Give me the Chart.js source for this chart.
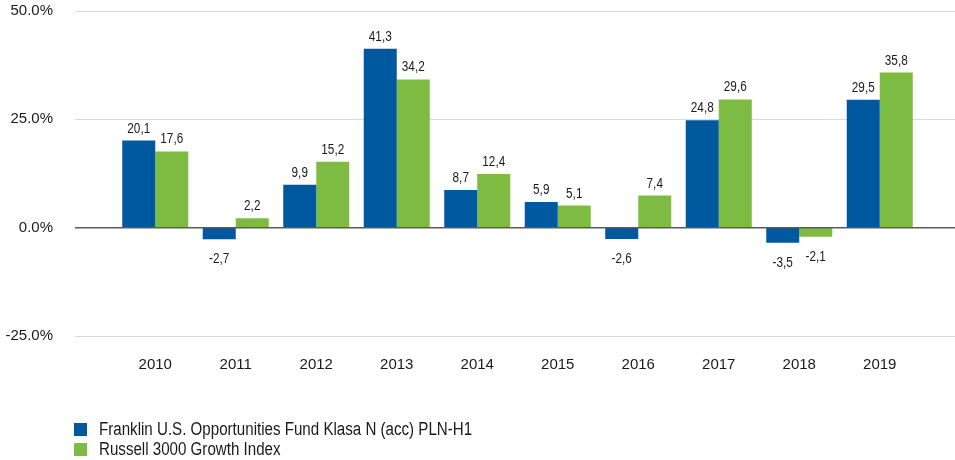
<!DOCTYPE html>
<html>
<head>
<meta charset="utf-8">
<script src="https://cdn.jsdelivr.net/npm/chart.js@4.4.1/dist/chart.umd.min.js"></script>
<style>
  html, body { margin: 0; padding: 0; background: #fff; }
  #wrap { width: 955px; height: 460px; }
</style>
</head>
<body>
<div id="wrap"><canvas id="returnsChart" width="955" height="460"></canvas></div>
<script>
// --- data ---
const years = ['2010', '2011', '2012', '2013', '2014', '2015', '2016', '2017', '2018', '2019'];
const fundReturns = [20.1, -2.7, 9.9, 41.3, 8.7, 5.9, -2.6, 24.8, -3.5, 29.5];
const indexReturns = [17.6, 2.2, 15.2, 34.2, 12.4, 5.1, 7.4, 29.6, -2.1, 35.8];
const yTicks = [-25, 0, 25, 50];
const seriesNames = ['Franklin U.S. Opportunities Fund Klasa N (acc) PLN-H1', 'Russell 3000 Growth Index'];
const seriesColors = ['#00599F', '#7DBB42'];

const FONT = "'Liberation Sans', Arial, sans-serif";
const TEXT = '#1a1a1a';
const NARROW = 0.84; // squeeze text horizontally, the original uses a narrow face

Chart.defaults.font.family = FONT;
Chart.defaults.color = TEXT;

// horizontal grid lines run wider than the bar area
const gridLines = {
    id: 'gridLines',
    beforeDatasetsDraw(chart) {
        const ctx = chart.ctx;
        const y = chart.scales.y;
        ctx.save();
        ctx.strokeStyle = '#d9d9d9';
        ctx.lineWidth = 1;
        yTicks.filter(v => v !== 0).forEach(v => {
            const py = Math.round(y.getPixelForValue(v)) + 0.5;
            ctx.beginPath();
            ctx.moveTo(75, py);
            ctx.lineTo(chart.width, py);
            ctx.stroke();
        });
        ctx.restore();
    },
    afterDatasetsDraw(chart) {
        const ctx = chart.ctx;
        const py = chart.scales.y.getPixelForValue(0);
        ctx.save();
        ctx.strokeStyle = '#5a5a5a';
        ctx.lineWidth = 1.5;
        ctx.beginPath();
        ctx.moveTo(75, py);
        ctx.lineTo(chart.width, py);
        ctx.stroke();
        ctx.restore();
    }
};

function narrowText(ctx, txt, x, y) {
    ctx.save();
    ctx.translate(x, y);
    ctx.scale(NARROW, 1);
    ctx.fillText(txt, 0, 0);
    ctx.restore();
}

// value labels above / below each bar
const valueLabels = {
    id: 'valueLabels',
    afterDatasetsDraw(chart) {
        const ctx = chart.ctx;
        ctx.save();
        ctx.font = '14px ' + FONT;
        ctx.fillStyle = TEXT;
        ctx.textAlign = 'center';
        ctx.textBaseline = 'alphabetic';
        chart.data.datasets.forEach((ds, i) => {
            chart.getDatasetMeta(i).data.forEach((bar, j) => {
                const v = ds.data[j];
                const txt = v.toFixed(1).replace('.', ',');
                const ty = v >= 0 ? bar.y - 8 : bar.y + 24;
                narrowText(ctx, txt, bar.x, ty);
            });
        });
        ctx.restore();
    }
};

// stacked legend at bottom left
const stackedLegend = {
    id: 'stackedLegend',
    afterDraw(chart) {
        const ctx = chart.ctx;
        ctx.save();
        ctx.font = '18px ' + FONT;
        ctx.textBaseline = 'middle';
        chart.data.datasets.forEach((ds, i) => {
            const top = 423 + i * 20;
            ctx.fillStyle = ds.backgroundColor;
            ctx.fillRect(74, top, 13, 13);
            ctx.fillStyle = TEXT;
            narrowText(ctx, ds.label, 99, top + 7);
        });
        ctx.restore();
    }
};

new Chart(document.getElementById('returnsChart'), {
    type: 'bar',
    data: {
        labels: years,
        datasets: [
            { label: seriesNames[0], data: fundReturns, backgroundColor: seriesColors[0] },
            { label: seriesNames[1], data: indexReturns, backgroundColor: seriesColors[1] }
        ]
    },
    options: {
        responsive: false,
        animation: false,
        layout: { padding: { top: 11, right: 35, bottom: 84, left: 0 } },
        datasets: { bar: { categoryPercentage: 0.82, barPercentage: 1.0 } },
        plugins: {
            legend: { display: false },
            tooltip: { enabled: false }
        },
        scales: {
            x: {
                grid: { display: false },
                border: { display: false },
                ticks: { font: { size: 15 }, padding: 12, maxRotation: 0 },
                afterFit(scale) { scale.height = 40; }
            },
            y: {
                min: -25,
                max: 50,
                grid: { display: false, drawTicks: false },
                border: { display: false },
                ticks: {
                    stepSize: 25,
                    padding: 62,
                    font: { size: 15 },
                    callback: v => v.toFixed(1) + '%'
                },
                afterFit(scale) {
                    scale.width = 115;
                    scale.paddingTop = 0;
                    scale.paddingBottom = 0;
                }
            }
        }
    },
    plugins: [gridLines, valueLabels, stackedLegend]
});
</script>
</body>
</html>
